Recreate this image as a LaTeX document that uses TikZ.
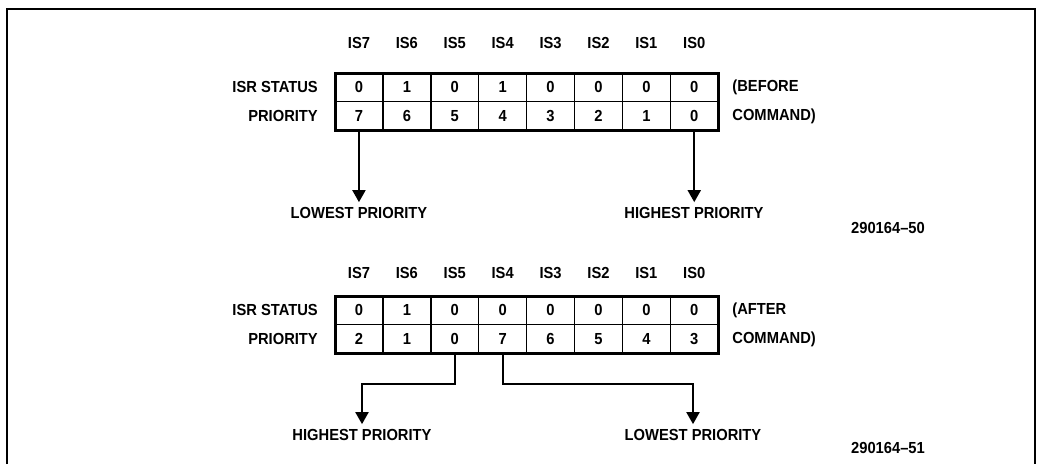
\documentclass[tikz,border=0pt]{standalone}
\usepackage{fontspec}
\setmainfont{Liberation Sans}[FakeStretch=0.92]
\usetikzlibrary{arrows.meta, positioning}

\begin{document}
\begin{tikzpicture}[
	x=1pt, y=-1pt,
	node distance=15pt,
	txt/.style={font=\fontsize{16}{18}\selectfont\bfseries, inner sep=2pt},
	cell/.style={txt, draw, line width=1.5pt, minimum width=47.9pt, minimum height=28.5pt, inner sep=0pt, outer sep=0pt},
	note/.style={txt, align=left, font=\fontsize{16}{29}\selectfont\bfseries},
	outline/.style={line width=3pt},
	arr/.style={-{Triangle[width=13pt,length=12pt]}, line width=2pt, shorten >=3pt},
	frame/.style={line width=1.5pt}
	]
	\useasboundingbox (0,0) rectangle (1040,464);
	\draw[frame] (7,464) -- (7,9) -- (1035,9) -- (1035,464);

	% before command
	\foreach \n/\s/\p [count=\i from 0] in {7/0/7,6/1/6,5/0/5,4/1/4,3/0/3,2/0/2,1/0/1,0/0/0} {
		\node[txt] (hA\n) at (358.95+47.9*\i, 43) {IS\n};
		\node[cell] (sA\n) at (358.95+47.9*\i, 87.25) {\s};
		\node[cell] (pA\n) at (358.95+47.9*\i, 115.75) {\p};
	}
	\draw[outline] (sA7.north west) rectangle (pA0.south east);
	\node[txt, left=of sA7] (isrA) {ISR STATUS};
	\node[txt, left=of pA7] (prA) {PRIORITY};
	\node[note, anchor=west] (cmdA) at ([xshift=12pt]pA0.north east) {(BEFORE\\COMMAND)};
	\node[txt] (lowA) at (359, 213) {LOWEST PRIORITY};
	\node[txt] (highA) at (694, 213) {HIGHEST PRIORITY};
	\node[txt] (idA) at (888, 228) {290164--50};

	\draw[arr] (pA7.south) -- (pA7.south |- lowA.north);
	\draw[arr] (pA0.south) -- (pA0.south |- highA.north);

	% after command
	\foreach \n/\s/\p [count=\i from 0] in {7/0/2,6/1/1,5/0/0,4/0/7,3/0/6,2/0/5,1/0/4,0/0/3} {
		\node[txt] (hB\n) at (358.95+47.9*\i, 273) {IS\n};
		\node[cell] (sB\n) at (358.95+47.9*\i, 310.25) {\s};
		\node[cell] (pB\n) at (358.95+47.9*\i, 338.75) {\p};
	}
	\draw[outline] (sB7.north west) rectangle (pB0.south east);
	\node[txt, left=of sB7] (isrB) {ISR STATUS};
	\node[txt, left=of pB7] (prB) {PRIORITY};
	\node[note, anchor=west] (cmdB) at ([xshift=12pt]pB0.north east) {(AFTER\\COMMAND)};
	\node[txt] (highB) at (362, 435) {HIGHEST PRIORITY};
	\node[txt] (lowB) at (693, 435) {LOWEST PRIORITY};
	\node[txt] (idB) at (888, 448) {290164--51};

	\draw[arr] (pB5.south) -- ++(0,31) -| (highB.north);
	\draw[arr] (pB4.south) -- ++(0,31) -| (lowB.north);
\end{tikzpicture}
\end{document}
